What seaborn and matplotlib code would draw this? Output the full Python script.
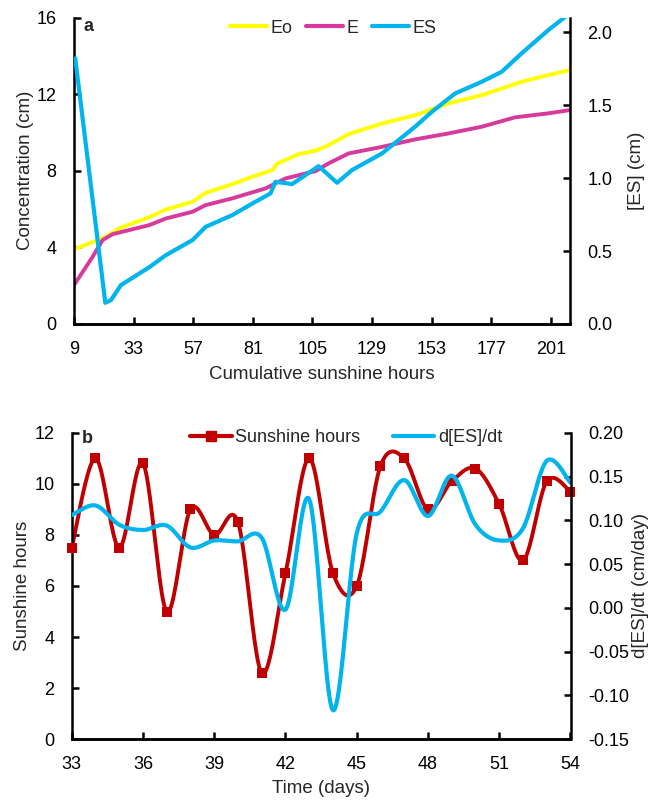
import numpy as np
import matplotlib
matplotlib.use('Agg')
import matplotlib.pyplot as plt
import seaborn as sns
from matplotlib.lines import Line2D

# ---- panel a data ----
eo_x = [9, 21.9, 27.2, 39.2, 46, 56.7, 62, 72.7, 80.8, 88.8, 90.8, 99.5, 106.2,
        111.5, 119.6, 133, 146.3, 159.7, 173.1, 181.2, 189.2, 199.9, 208.6]
eo_y = [3.9, 4.55, 5.0, 5.57, 5.98, 6.38, 6.85, 7.3, 7.69, 8.04, 8.38, 8.87, 9.05,
        9.34, 9.92, 10.47, 10.9, 11.52, 11.95, 12.3, 12.65, 13.0, 13.26]

e_x = [9, 16.5, 20.5, 24.5, 39.2, 46, 56.7, 62, 72.7, 86.1, 94.1, 102.2, 106.2,
       111.5, 119.6, 133, 146.3, 159.7, 173.1, 186.5, 199.9, 208.6]
e_y = [2.03, 3.51, 4.38, 4.69, 5.16, 5.51, 5.86, 6.21, 6.56, 7.08, 7.6, 7.86, 7.98,
       8.39, 8.91, 9.25, 9.64, 9.95, 10.3, 10.79, 11.0, 11.17]

es_x = [9.5, 21.6, 23.9, 27.9, 39.2, 46, 56.7, 62, 72.7, 80.8, 88.1, 90.1, 96.8,
        107.5, 114.9, 120.9, 133, 146.3, 153.1, 162.4, 173.1, 181.2, 189.2,
        199.9, 208.6]
es_y = [1.82, 0.145, 0.164, 0.267, 0.388, 0.472, 0.575, 0.666, 0.746, 0.826,
        0.895, 0.975, 0.959, 1.082, 0.968, 1.055, 1.169, 1.352, 1.455, 1.58,
        1.66, 1.729, 1.855, 2.014, 2.13]

# ---- panel b data ----
days = list(range(33, 55))
sunshine = [7.5, 11.0, 7.5, 10.8, 5.0, 9.0, 8.0, 8.5, 2.6, 6.5, 11.0,
            6.5, 6.0, 10.7, 11.0, 9.0, 10.1, 10.6, 9.2, 7.0, 10.1, 9.7]
des_dt = [0.106, 0.117, 0.095, 0.089, 0.094, 0.069, 0.077, 0.076, 0.08, -0.002,
          0.124, -0.117, 0.085, 0.11, 0.146, 0.105, 0.151, 0.095, 0.077, 0.091,
          0.168, 0.143]

YELLOW = '#FFFF00'
PINK = '#D63A9B'
CYAN = '#00B4EE'
DKRED = '#C00000'


def smooth_line(x, y, n=24):
    # Catmull-Rom curve through the points (Excel "smoothed line" look)
    p = np.column_stack([x, y]).astype(float)
    p = np.vstack([p[0], p, p[-1]])
    t = np.linspace(0, 1, n, endpoint=False)[:, None]
    out = []
    for i in range(1, len(p) - 2):
        p0, p1, p2, p3 = p[i - 1], p[i], p[i + 1], p[i + 2]
        seg = 0.5 * (2 * p1 + (-p0 + p2) * t + (2 * p0 - 5 * p1 + 4 * p2 - p3) * t ** 2
                     + (-p0 + 3 * p1 - 3 * p2 + p3) * t ** 3)
        out.append(seg)
    out.append(p[-2][None, :])
    out = np.vstack(out)
    return out[:, 0], out[:, 1]


sns.set_theme(style='ticks')
plt.rcParams['font.family'] = ['Liberation Sans', 'DejaVu Sans']
plt.rcParams['font.size'] = 13

fig = plt.figure(figsize=(6.52, 8.0), dpi=100)
ax_a = fig.add_axes([0.1135, 0.595, 0.7605, 0.383])
ax_b = fig.add_axes([0.110, 0.076, 0.765, 0.383])


def style_axes(ax, ax2):
    for a in (ax, ax2):
        a.spines['top'].set_visible(False)
        for s in ('left', 'right', 'bottom'):
            a.spines[s].set_linewidth(1.8)
            a.spines[s].set_color('black')
        a.tick_params(direction='in', length=5, width=1.8, labelsize=13,
                      colors='black')
        a.tick_params(axis='y', pad=12.5)
        a.tick_params(axis='x', pad=12)
    ax2.spines['left'].set_visible(False)
    ax.spines['right'].set_visible(False)


# ---- panel a ----
ax_a2 = ax_a.twinx()
sns.lineplot(x=eo_x, y=eo_y, ax=ax_a, color=YELLOW, lw=2.8, sort=False)
sns.lineplot(x=e_x, y=e_y, ax=ax_a, color=PINK, lw=2.8, sort=False)
sns.lineplot(x=es_x, y=es_y, ax=ax_a2, color=CYAN, lw=3.0, sort=False)
ax_a.set_xlim(9, 208.6)
ax_a.set_ylim(0, 16)
ax_a2.set_ylim(0, 2.1)
ax_a.set_xticks(range(9, 202, 24))
ax_a.set_yticks(range(0, 17, 4))
ax_a2.set_yticks([0, 0.5, 1.0, 1.5, 2.0])
ax_a2.set_yticklabels(['0.0', '0.5', '1.0', '1.5', '2.0'])
style_axes(ax_a, ax_a2)
ax_a.set_xlabel('Cumulative sunshine hours', fontsize=13.5, labelpad=6)
ax_a.set_ylabel('Concentration (cm)', fontsize=13.5, labelpad=2)
ax_a2.set_ylabel('[ES] (cm)', fontsize=13.5, labelpad=11)
ax_a.text(0.02, 0.972, 'a', transform=ax_a.transAxes, fontsize=13,
          fontweight='bold', va='center', ha='left')
h_a = [Line2D([], [], color=YELLOW, lw=3), Line2D([], [], color=PINK, lw=3),
       Line2D([], [], color=CYAN, lw=3)]
ax_a2.legend(h_a, ['Eo', 'E', 'ES'], loc='center', bbox_to_anchor=(0.523, 0.966),
             ncol=3, frameon=False, fontsize=13, handlelength=2.05,
             handletextpad=0.2, columnspacing=0.75, borderpad=0)

# ---- panel b ----
ax_b2 = ax_b.twinx()
sx, sy = smooth_line(days, sunshine)
sns.lineplot(x=sx, y=sy, ax=ax_b, color=DKRED, lw=2.8, sort=False)
sns.scatterplot(x=days, y=sunshine, ax=ax_b, color=DKRED, marker='s', s=55,
                edgecolor=DKRED, linewidth=0, zorder=3, clip_on=False)
dx, dy = smooth_line(days, des_dt)
sns.lineplot(x=dx, y=dy, ax=ax_b2, color=CYAN, lw=3.0, sort=False)
ax_b.set_xlim(33, 54)
ax_b.set_ylim(0, 12)
ax_b2.set_ylim(-0.15, 0.20)
ax_b.set_xticks(range(33, 55, 3))
ax_b.set_yticks(range(0, 13, 2))
rt = [-0.15, -0.10, -0.05, 0.0, 0.05, 0.10, 0.15, 0.20]
ax_b2.set_yticks(rt)
ax_b2.set_yticklabels([f'{v:.2f}' for v in rt])
style_axes(ax_b, ax_b2)
ax_b.set_xlabel('Time (days)', fontsize=13.5, labelpad=5)
ax_b.set_ylabel('Sunshine hours', fontsize=13.5, labelpad=2)
ax_b2.set_ylabel('d[ES]/dt (cm/day)', fontsize=13.5, labelpad=2)
ax_b.text(0.02, 0.982, 'b', transform=ax_b.transAxes, fontsize=13,
          fontweight='bold', va='center', ha='left')
h_b = [Line2D([], [], color=DKRED, lw=3, marker='s', markersize=7),
       Line2D([], [], color=CYAN, lw=3)]
ax_b2.legend(h_b, ['Sunshine hours', 'd[ES]/dt'], loc='center',
             bbox_to_anchor=(0.55, 0.984), ncol=2, frameon=False, fontsize=13,
             handlelength=2.3, handletextpad=0.2, columnspacing=1.8, borderpad=0)

fig.savefig('out.png', dpi=100)
